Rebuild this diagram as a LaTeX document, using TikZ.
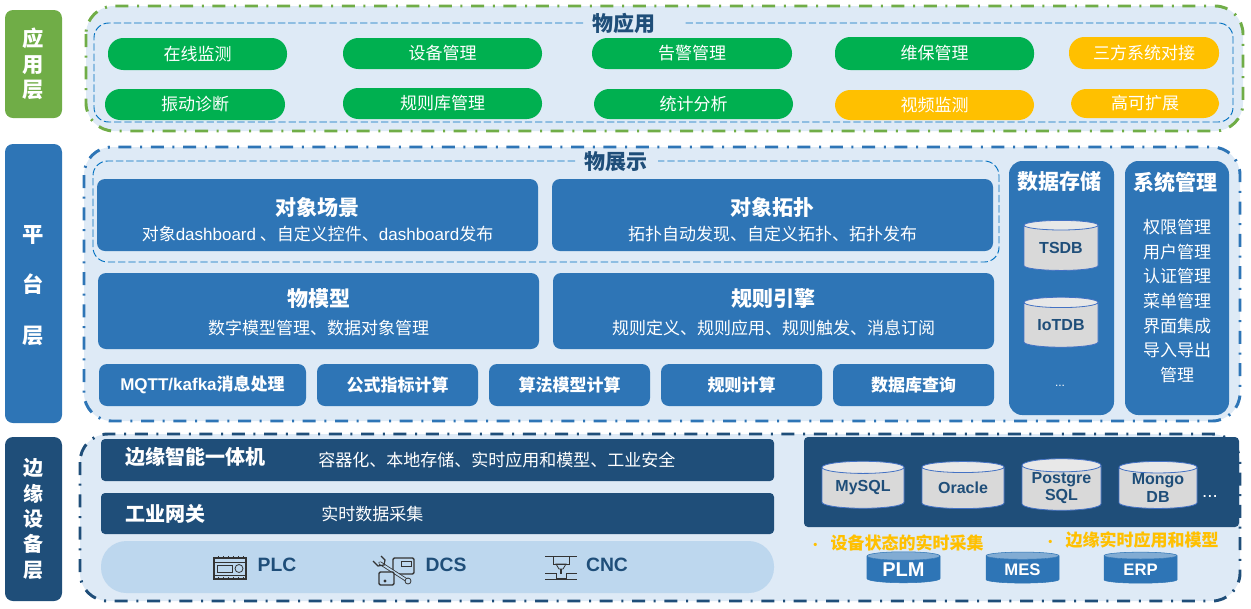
\documentclass[tikz,border=0pt]{standalone}
\usepackage{fontspec}
\setmainfont{Noto Sans CJK SC}
\newfontfamily\lat{Liberation Sans}
\usetikzlibrary{shapes.geometric}

\definecolor{pale}{HTML}{DEEAF6}
\definecolor{midblue}{HTML}{2E75B6}
\definecolor{deepblue}{HTML}{1F4E79}
\definecolor{leaf}{HTML}{70AD47}
\definecolor{pillgreen}{HTML}{00B050}
\definecolor{amber}{HTML}{FFC000}
\definecolor{band}{HTML}{BDD7EE}
\definecolor{dashblue}{HTML}{0070C0}
\definecolor{rimblue}{HTML}{4472C4}

\newcommand{\fs}[1]{\fontsize{#1}{#1}\selectfont}

\tikzset{
	dim/.style 2 args={minimum width=#1*.75pt, minimum height=#2*.75pt, inner sep=0pt},
	layerbar/.style={rounded corners=6pt, text=white, align=center, font=\fs{16}\bfseries},
	outer/.style={rounded corners=21pt, fill=pale, line width=2.2pt,
		dash pattern=on 9.75pt off 6.5pt on 1.5pt off 6.5pt},
	inner/.style={rounded corners=11pt, draw=dashblue, line width=.7pt, dash pattern=on 5.5pt off 2.2pt},
	pill/.style={rounded corners=11.5pt, text=white, font=\fs{12.75}},
	card/.style={fill=midblue, rounded corners=6pt, text=white, align=center},
	slab/.style={fill=deepblue, rounded corners=3pt},
	title/.style={text=deepblue, font=\fs{15.75}\bfseries, inner sep=0pt},
	db/.style={cylinder, shape border rotate=90, aspect=.22, cylinder uses custom fill,
		cylinder body fill=black!15, cylinder end fill=black!9, draw=rimblue, line width=.6pt,
		text=deepblue, align=center, inner sep=0pt, font=\fs{12}\lat\bfseries},
	bluedb/.style={cylinder, shape border rotate=90, aspect=.2, cylinder uses custom fill,
		cylinder body fill=midblue, cylinder end fill=midblue!60, draw=midblue, line width=.4pt,
		text=white, inner sep=0pt, font=\fs{12.5}\lat\bfseries},
	icon/.style={line width=.6pt, draw=black!80}
}

\begin{document}
\begin{tikzpicture}[x=.75pt, y=-.75pt]
	\useasboundingbox (0,0) rectangle (1251,608);

	% layer bars
	\node[layerbar, fill=leaf, dim={57}{108}, font=\fs{16}\bfseries] (appbar) at (33.5,64) {应\\[3pt]用\\[3pt]层};
	\node[layerbar, fill=midblue, dim={57}{279}] (platbar) at (33.5,283.5) {};
	\node[text=white, align=center, font=\fs{16}\bfseries] (platt) at (33.5,285.5) {平\\[22pt]台\\[22pt]层};
	\node[layerbar, fill=deepblue, dim={57}{164}, font=\fs{15}\bfseries] (edgebar) at (33.5,519) {边\\[4pt]缘\\[4pt]设\\[4pt]备\\[4pt]层};

	% application layer
	\draw[outer, draw=leaf] (86,6) rectangle (1243,131);
	\draw[inner] (583,23) -- (94,23) -- (94,122) -- (1233,122) -- (1233,23) -- (685,23);
	\node[title] (apptitle) at (624,23) {物应用};

	\foreach \nm/\cx/\cy/\bw/\bh/\col/\txt in {
		mon/197.5/54/179/32/pillgreen/在线监测,
		dev/442.5/53.5/199/31/pillgreen/设备管理,
		alm/692/53.5/200/31/pillgreen/告警管理,
		mnt/934.5/53.5/199/33/pillgreen/维保管理,
		thd/1144/53/150/32/amber/三方系统对接,
		vib/195/104.5/180/31/pillgreen/振动诊断,
		rul/442.5/103.5/199/31/pillgreen/规则库管理,
		sta/693.5/104/199/30/pillgreen/统计分析,
		vid/934.5/105/199/30/amber/视频监测,
		ext/1145/103.5/148/29/amber/高可扩展}{
		\node[pill, fill=\col, dim={\bw}{\bh}] (\nm) at (\cx,\cy) {\txt};
	}

	% platform layer
	\draw[outer, draw=midblue] (84,147) rectangle (1240,421);
	\draw[inner] (575,161) -- (93,161) -- (93,262) -- (999,262) -- (999,161) -- (658,161);
	\node[title] (plattitle) at (616,162) {物展示};

	\foreach \nm/\cx/\cy/\bw/\bh/\ty/\gap/\head/\txt in {
		scene/317.5/215/441/72/220/5.5pt/对象场景/对象{\lat dashboard} 、自定义控件、{\lat dashboard}发布,
		topo/772.5/215/441/72/220/5.5pt/对象拓扑/拓扑自动发现、自定义拓扑、拓扑发布,
		model/318.5/311/441/76/312.5/7.5pt/物模型/数字模型管理、数据对象管理,
		rule/773.5/311/441/76/312.5/7.5pt/规则引擎/规则定义、规则应用、规则触发、消息订阅}{
		\node[card, dim={\bw}{\bh}] (\nm) at (\cx,\cy) {};
		\node[text=white, align=center] (\nm t) at (\cx,\ty) {{\fs{15.75}\bfseries\head}\\[\gap]{\fs{12.75}\txt}};
	}

	\foreach \nm/\cx/\bw/\txt in {
		mqtt/202.5/207/{\lat MQTT/kafka}消息处理,
		form/397.5/161/公式指标计算,
		algo/569.5/161/算法模型计算,
		calc/741.5/161/规则计算,
		query/913.5/161/数据库查询}{
		\node[card, dim={\bw}{42}, font=\fs{12.75}\bfseries] (\nm) at (\cx,385) {\txt};
	}

	\node[card, rounded corners=10pt, dim={105}{254}] (store) at (1061.5,288) {};
	\node[card, rounded corners=10pt, dim={104}{254}] (sysm) at (1177,288) {};
	\node[text=white, font=\fs{15.75}\bfseries] (storet) at (1059.5,182) {数据存储};
	\node[text=white, font=\fs{15.75}\bfseries] (sysmt) at (1175,182) {系统管理};
	\node[db, dim={74}{50}] (tsdb) at (1061,248) {TSDB};
	\node[db, dim={74}{50}] (iotdb) at (1061,325) {IoTDB};
	\node[text=white, font=\fs{9}\lat] (more) at (1060,386) {...};
	\foreach \txt [count=\i from 0] in {权限管理,用户管理,认证管理,菜单管理,界面集成,导入导出,管理}{
		\node[text=white, font=\fs{12.75}] (sys\i) at (1177,{227+\i*24.7}) {\txt};
	}

	% edge layer
	\draw[outer, draw=deepblue] (80,434) rectangle (1240,601);
	\node[slab, dim={673}{42}] (box) at (437.5,460) {};
	\node[slab, dim={673}{41}] (gate) at (437.5,513.5) {};
	\node[fill=band, rounded corners=19pt, dim={673}{52}] (fieldband) at (437.5,567) {};
	\node[text=white, font=\fs{15}\bfseries, anchor=west, inner sep=0pt] (boxt) at (125,457) {边缘智能一体机};
	\node[text=white, font=\fs{12.75}, anchor=west, inner sep=0pt] (boxs) at (318,460) {容器化、本地存储、实时应用和模型、工业安全};
	\node[text=white, font=\fs{15}\bfseries, anchor=west, inner sep=0pt] (gatet) at (125,514) {工业网关};
	\node[text=white, font=\fs{12.75}, anchor=west, inner sep=0pt] (gates) at (321,514) {实时数据采集};

	\foreach \nm/\cx/\txt in {plc/277/PLC, dcs/446/DCS, cnc/607/CNC}{
		\node[text=deepblue, font=\fs{14.5}\lat\bfseries] (\nm) at (\cx,565) {\txt};
	}

	% PLC icon
	\draw[icon, line width=.8pt] (214,558) rectangle (246,579);
	\draw[icon] (214,562) -- (246,562) (214,575) -- (246,575);
	\draw[icon] (217,565) rectangle (232,572);
	\draw[icon] (239,568.5) circle (4);
	\foreach \i in {0,1,2,3,4,5}{
		\draw[icon] ({218+\i*5},556) -- ++(0,3) ({218+\i*5},577) -- ++(0,3);
	}
	% DCS icon
	\draw[icon, line width=1pt, rounded corners=1pt] (393,558) rectangle (414,574);
	\draw[icon] (401,561) rectangle (411,566);
	\draw[icon, line width=2.6pt, line cap=round] (380,563) -- (408,581);
	\draw[band, line width=1.4pt, line cap=round] (380,563) -- (408,581);
	\draw[icon, line width=.9pt] (373,561) -- (378,566) -- (384,565) -- (385,560) -- (381,556);
	\draw[icon, fill=band] (408,581) circle (3);
	\draw[icon, line width=1pt, fill=band, rounded corners=1pt] (379,572) rectangle (394,585);
	\draw[icon, fill=black!80] (385,581) circle (1);
	% CNC icon
	\draw[icon] (545,556) -- (577,556);
	\draw[icon] (553,556) rectangle (569,564);
	\draw[icon] (556,564) -- (566,564) -- (563,569) -- (559,569) -- cycle;
	\draw[icon, line width=1.6pt] (561,569) -- (561,574);
	\draw[icon] (545,573) -- (556,573) -- (556,578) -- (566,578) -- (566,573) -- (577,573);
	\draw[icon] (545,579) -- (577,579);

	\node[slab, dim={435}{90}] (dbpanel) at (1021.5,482) {};
	\foreach \nm/\cx/\bw/\txt in {
		mysql/863/82/MySQL,
		oracle/963/82/Oracle,
		pgsql/1061.5/79/{Postgre\\[1pt]SQL},
		mongo/1158/78/{Mongo\\[1pt]DB}}{
		\node[db, dim={\bw}{47}] (\nm) at (\cx,488) {\txt};
	}
	\node[text=white, font=\fs{14}\lat] (dots) at (1210,496) {...};

	\node[text=amber, font=\fs{12.75}\bfseries, anchor=west, inner sep=0pt] (collect) at (809,543) {\fs{9}·\hspace{7pt}\fs{12.75}设备状态的实时采集};
	\node[text=amber, font=\fs{12.75}\bfseries, anchor=west, inner sep=0pt] (apps) at (1044,540) {\fs{9}·\hspace{7pt}\fs{12.75}边缘实时应用和模型};

	\foreach \nm/\cx/\fsz in {PLM/903.5/15, MES/1022.5/12.5, ERP/1140.5/12.5}{
		\node[bluedb, dim={73}{31}, font=\fs{\fsz}\lat\bfseries] (\nm) at (\cx,569.5) {\nm};
	}
\end{tikzpicture}
\end{document}
